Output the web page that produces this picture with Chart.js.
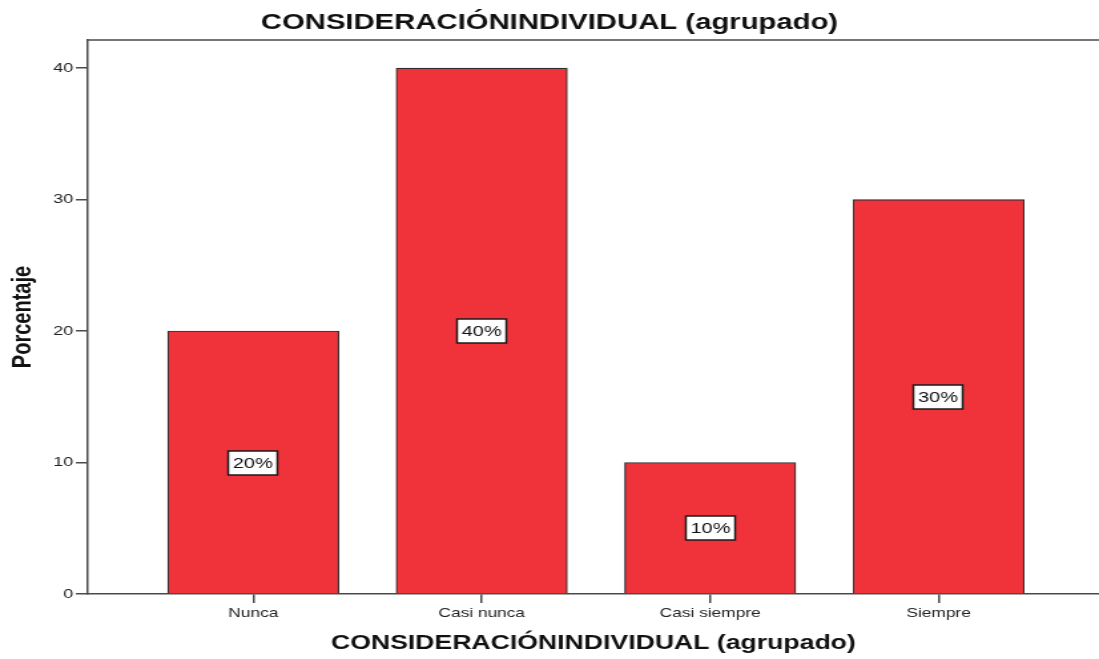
<!DOCTYPE html>
<html>
<head>
<meta charset="utf-8">
<script src="https://cdn.jsdelivr.net/npm/chart.js@4/dist/chart.umd.min.js"></script>
<style>
html,body{margin:0;padding:0;background:#fff;overflow:hidden;}
#wrap{width:1099px;height:659px;position:relative;}
#c{display:block;width:1099px;height:659px;}
</style>
</head>
<body>
<div id="wrap"><canvas id="c" width="826" height="659" style="width:1099px;height:659px;"></canvas></div>
<script>
const categories = ['Nunca', 'Casi nunca', 'Casi siempre', 'Siempre'];
const percentValues = [20, 40, 10, 30];
const dataLabels = ['20%', '40%', '10%', '30%'];
const yTicks = [0, 10, 20, 30, 40];
const chartTitle = 'CONSIDERACIÓNINDIVIDUAL (agrupado)';
const yTitle = 'Porcentaje';

const FONT = "'Liberation Sans', Arial, sans-serif";
const AXIS_COLOR = '#4a4a4a';

const labelPlugin = {
  id: 'boxLabels',
  afterDatasetsDraw(chart) {
    const ctx = chart.ctx;
    const meta = chart.getDatasetMeta(0);
    const yScale = chart.scales.y;
    ctx.save();
    ctx.font = '15px ' + FONT;
    ctx.textAlign = 'center';
    ctx.textBaseline = 'middle';
    meta.data.forEach((el, i) => {
      const v = percentValues[i];
      const cx = Math.round(el.x);
      const cy = Math.round(yScale.getPixelForValue(v / 2));
      const txt = dataLabels[i];
      const w = Math.round(ctx.measureText(txt).width + 7);
      const h = 24;
      ctx.fillStyle = '#fff';
      ctx.fillRect(cx - w / 2, cy - h / 2, w, h);
      ctx.strokeStyle = '#1a1a1a';
      ctx.lineWidth = 1.5;
      ctx.strokeRect(cx - w / 2, cy - h / 2, w, h);
      ctx.fillStyle = '#111';
      ctx.fillText(txt, cx, cy + 1);
    });
    ctx.restore();
  }
};

const framePlugin = {
  id: 'frameTop',
  beforeDatasetsDraw(chart) {
    const {ctx, chartArea} = chart;
    ctx.save();
    ctx.strokeStyle = AXIS_COLOR;
    ctx.lineWidth = 1.5;
    ctx.beginPath();
    ctx.moveTo(chartArea.left, chartArea.top);
    ctx.lineTo(chartArea.right, chartArea.top);
    ctx.stroke();
    ctx.restore();
  }
};

new Chart(document.getElementById('c'), {
  type: 'bar',
  data: {
    datasets: [{
      data: percentValues.map((v, i) => ({x: i + 1, y: v})),
      backgroundColor: '#f0333b',
      borderColor: '#2e2e2e',
      borderWidth: 1.2,
      barThickness: 128.6
    }]
  },
  options: {
    responsive: false,
    animation: false,
    devicePixelRatio: 1,
    layout: {padding: {left: 0, right: 0, top: 0, bottom: 0}},
    plugins: {
      legend: {display: false},
      tooltip: {enabled: false},
      title: {
        display: true,
        text: chartTitle,
        color: '#111',
        font: {family: FONT, size: 22, weight: 'bold', lineHeight: 1.2},
        padding: {top: 10, bottom: 3.6}
      }
    },
    scales: {
      x: {
        type: 'linear',
        offset: false,
        min: 0.2757,
        max: 4.702,
        afterBuildTicks: s => { s.ticks = categories.map((c, i) => ({value: i + 1})); },
        afterFit: s => { s.height = 65; },
        grid: {display: true, offset: false, drawOnChartArea: false, drawTicks: true, tickLength: 9, color: AXIS_COLOR, lineWidth: 1.5},
        border: {display: true, color: AXIS_COLOR, width: 1.5},
        ticks: {
          padding: 3,
          color: '#222',
          font: {family: FONT, size: 13},
          maxRotation: 0,
          autoSkip: false,
          callback: v => categories[Math.round(v) - 1] || ''
        },
        title: {
          display: true,
          text: chartTitle,
          color: '#111',
          font: {family: FONT, size: 20, weight: 'bold', lineHeight: 1.2},
          padding: {top: 0, bottom: 4}
        }
      },
      y: {
        min: 0,
        max: 42.13,
        afterBuildTicks: s => { s.ticks = yTicks.map(v => ({value: v})); },
        afterFit: s => { s.width = 66; },
        grid: {display: true, drawOnChartArea: false, drawTicks: true, tickLength: 9, color: AXIS_COLOR, lineWidth: 1.5},
        border: {display: true, color: AXIS_COLOR, width: 1.5},
        ticks: {
          padding: 2,
          color: '#222',
          font: {family: FONT, size: 13.5}
        },
        title: {
          display: true,
          text: yTitle,
          color: '#111',
          font: {family: FONT, size: 20, weight: 'bold', lineHeight: 1.2},
          padding: {top: 5, bottom: 0}
        }
      }
    }
  },
  plugins: [labelPlugin, framePlugin]
});
</script>
</body>
</html>
